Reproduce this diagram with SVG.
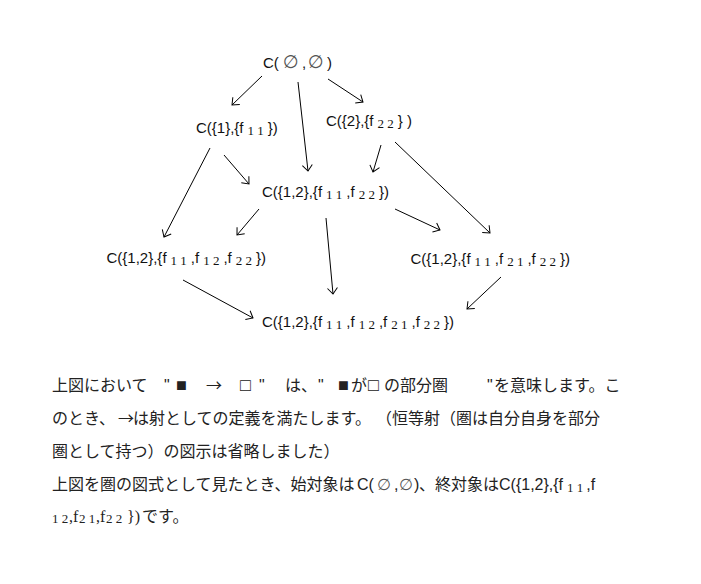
<svg xmlns="http://www.w3.org/2000/svg" width="701" height="584" viewBox="0 0 701 584">
<style>
.n{font-family:"Liberation Sans",Arial,sans-serif;font-size:15px;fill:#111}
.s{font-family:"Liberation Serif","Times New Roman",serif;font-size:13px}
.e{font-family:"DejaVu Sans",sans-serif;font-size:18px;fill:#555}
.e2{font-family:"DejaVu Sans",sans-serif;font-size:16px;fill:#555}
.j{font-family:"Noto Sans CJK JP","Noto Sans",sans-serif;font-size:16px;fill:#222}
.l{font-family:"Liberation Sans",Arial,sans-serif}
.ls{font-family:"Liberation Serif","Times New Roman",serif}
.sq{font-family:"Liberation Sans",Arial,sans-serif;font-size:18px}
.c line{stroke:#000;stroke-width:1;marker-end:url(#ah)}
</style>
<defs>
<marker id="ah" markerWidth="12" markerHeight="12" refX="10" refY="6" orient="auto" markerUnits="userSpaceOnUse" overflow="visible">
<path d="M4,1 L10,6 L4,11" fill="none" stroke="#000" stroke-width="1"/>
</marker>
</defs>
<rect width="701" height="584" fill="#fff"/>
<g id="connectors" class="c">
<line x1="262" y1="76" x2="232" y2="105"/>
<line x1="298" y1="82" x2="308" y2="171"/>
<line x1="328" y1="79" x2="363" y2="102"/>
<line x1="210" y1="148" x2="164" y2="237"/>
<line x1="224" y1="155" x2="249" y2="184"/>
<line x1="381" y1="145" x2="373" y2="172"/>
<line x1="395" y1="142" x2="490" y2="233"/>
<line x1="259" y1="209" x2="237" y2="235"/>
<line x1="395" y1="209" x2="440" y2="230"/>
<line x1="326" y1="218" x2="333" y2="294"/>
<line x1="183" y1="280" x2="253" y2="318"/>
<line x1="501" y1="277" x2="467" y2="309"/>
</g>
<g id="node-empty"><text class="n" x="263" y="68"><tspan>C(</tspan><tspan class="e" x="283">∅</tspan><tspan x="302">,</tspan><tspan class="e" x="308">∅</tspan><tspan x="327">)</tspan></text></g>
<g id="node-1"><text class="n" x="196" y="133">C({1},{f<tspan class="s" dx="4" dy="2">1 1</tspan><tspan dx="4" dy="-2">})</tspan></text></g>
<g id="node-2"><text class="n" x="326" y="126">C({2},{f<tspan class="s" dx="4" dy="2">2 2</tspan><tspan dx="4" dy="-2">} )</tspan></text></g>
<g id="node-12-11-22"><text class="n" x="262" y="197">C({1,2},{f<tspan class="s" dx="4" dy="2">1 1</tspan><tspan dx="4" dy="-2">,f</tspan><tspan class="s" dx="4" dy="2">2 2</tspan><tspan dx="4" dy="-2">})</tspan></text></g>
<g id="node-12-11-12-22"><text class="n" x="106.5" y="263">C({1,2},{f<tspan class="s" dx="4" dy="2">1 1</tspan><tspan dx="4" dy="-2">,f</tspan><tspan class="s" dx="4" dy="2">1 2</tspan><tspan dx="4" dy="-2">,f</tspan><tspan class="s" dx="4" dy="2">2 2</tspan><tspan dx="4" dy="-2">})</tspan></text></g>
<g id="node-12-11-21-22"><text class="n" x="410.5" y="264">C({1,2},{f<tspan class="s" dx="4" dy="2">1 1</tspan><tspan dx="4" dy="-2">,f</tspan><tspan class="s" dx="4" dy="2">2 1</tspan><tspan dx="4" dy="-2">,f</tspan><tspan class="s" dx="4" dy="2">2 2</tspan><tspan dx="4" dy="-2">})</tspan></text></g>
<g id="node-all"><text class="n" x="262" y="327">C({1,2},{f<tspan class="s" dx="4" dy="2">1 1</tspan><tspan dx="4" dy="-2">,f</tspan><tspan class="s" dx="4" dy="2">1 2</tspan><tspan dx="4" dy="-2">,f</tspan><tspan class="s" dx="4" dy="2">2 1</tspan><tspan dx="4" dy="-2">,f</tspan><tspan class="s" dx="4" dy="2">2 2</tspan><tspan dx="4" dy="-2">})</tspan></text></g>
<g id="caption">
<text class="j" y="391"><tspan x="52">上図において</tspan><tspan class="l" x="164">"</tspan><tspan class="sq" x="176" y="391">■</tspan><tspan x="206" y="391">→</tspan><tspan class="sq" x="240" y="391">□</tspan><tspan class="l" x="259" y="391">"</tspan><tspan x="285">は、</tspan><tspan class="l" x="318">"</tspan><tspan class="sq" x="338" y="391">■</tspan><tspan x="351" y="391">が</tspan><tspan class="sq" x="368" y="391">□</tspan><tspan x="384" y="391">の部分圏</tspan><tspan class="l" x="487">"</tspan><tspan x="494">を意味します。こ</tspan></text>
<text class="j" y="424"><tspan x="52">のとき、</tspan><tspan x="118">→</tspan><tspan x="133">は射としての定義を満たします。</tspan><tspan x="376">（恒等射（圏は自分自身を部分</tspan></text>
<text class="j" x="52" y="457">圏として持つ）の図示は省略しました）</text>
<text class="j" y="490"><tspan x="52">上図を圏の図式として見たとき、始対象は</tspan><tspan class="l" x="357">C(</tspan><tspan class="e2" x="377">∅</tspan><tspan class="l" x="394">,</tspan><tspan class="e2" x="399">∅</tspan><tspan class="l" x="414">)</tspan><tspan x="419">、終対象は</tspan><tspan class="l" x="499">C({1,2},{f</tspan><tspan class="s" dx="4" dy="2">1 1</tspan><tspan class="l" dx="3" dy="-2">,f</tspan></text>
<text class="j" y="522"><tspan class="s" x="52" y="523">1 2</tspan><tspan class="ls" x="69" y="522">,f</tspan><tspan class="s" x="79" y="523">2 1</tspan><tspan class="ls" x="96" y="522">,f</tspan><tspan class="s" x="106" y="523">2 2</tspan><tspan class="ls" x="127" y="522">})</tspan><tspan x="142">です。</tspan></text>
</g>
</svg>
